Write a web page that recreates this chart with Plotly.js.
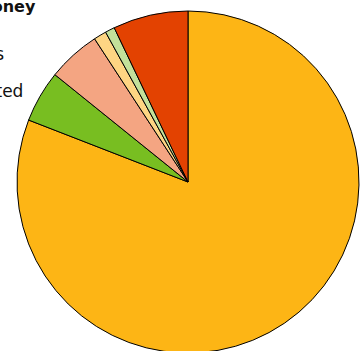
<!DOCTYPE html>
<html>
<head>
<meta charset="utf-8">
<script src="https://cdn.plot.ly/plotly-3.0.1.min.js"></script>
<style>
html,body{margin:0;padding:0;width:360px;height:351px;overflow:hidden;background:#fff;}
#chart{position:absolute;left:0;top:0;width:380px;height:380px;}
</style>
</head>
<body>
<div id="chart"></div>
<script>
var labels = ["Living costs", "Savings", "Investments", "Gifts", "Donations", "Other"];
var values = [80.9, 4.9, 5.0, 1.2, 0.9, 7.1];
var colors = ["#FDB515", "#78BE21", "#F4A582", "#FED583", "#C3E19B", "#E34201"];
var legendTexts = ["Where goes the money", "Expenses", "Not counted"];

var W = 380, H = 380;
function px(x){ return x / W; }
function py(y){ return 1 - y / H; }

var trace = {
  type: "pie",
  labels: labels,
  values: values,
  sort: false,
  direction: "clockwise",
  rotation: 0,
  textinfo: "none",
  hoverinfo: "label+percent",
  marker: {colors: colors, line: {color: "#000", width: 1}},
  domain: {x: [px(17), px(359)], y: [py(353), py(11)]},
  showlegend: false
};

var layout = {
  width: W, height: H,
  margin: {l: 0, r: 0, t: 0, b: 0},
  paper_bgcolor: "#fff",
  showlegend: false,
  annotations: [
    {text: "<b>" + legendTexts[0] + "</b>", xref: "paper", yref: "paper", x: px(37.5), y: py(12), xanchor: "right", yanchor: "bottom", showarrow: false, font: {family: "DejaVu Sans", size: 16, color: "#111"}, yshift: -6},
    {text: legendTexts[1], xref: "paper", yref: "paper", x: px(6), y: py(58), xanchor: "right", yanchor: "bottom", showarrow: false, font: {family: "DejaVu Sans", size: 17, color: "#111"}, yshift: -8},
    {text: legendTexts[2], xref: "paper", yref: "paper", x: px(24.5), y: py(95), xanchor: "right", yanchor: "bottom", showarrow: false, font: {family: "DejaVu Sans", size: 17, color: "#111"}, yshift: -8}
  ]
};

Plotly.newPlot("chart", [trace], layout, {displayModeBar: false, staticPlot: true});
</script>
</body>
</html>
